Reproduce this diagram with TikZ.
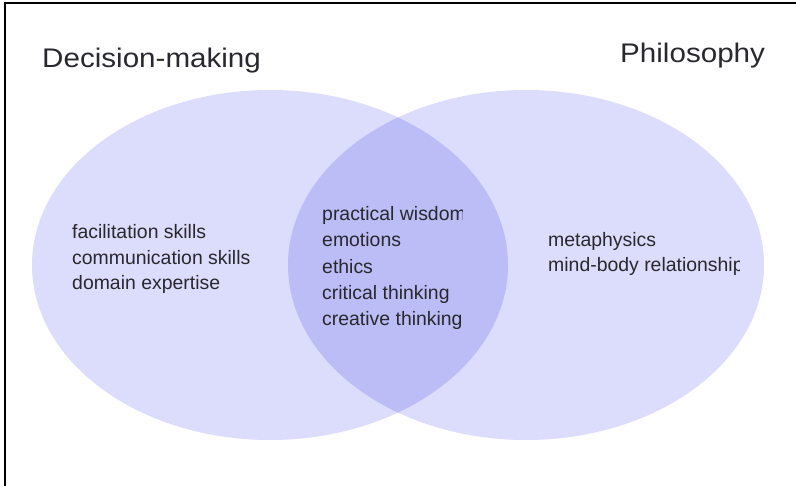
\documentclass[tikz,border=0pt]{standalone}
\usepackage{fontspec}
\setmainfont{Liberation Sans}
\usetikzlibrary{positioning}

\definecolor{setfill}{RGB}{220,220,252}
\definecolor{meetfill}{RGB}{188,188,246}
\definecolor{labeltext}{RGB}{40,40,46}

\begin{document}
\begin{tikzpicture}[x=1bp, y=-1bp,
  settitle/.style={anchor=base west, inner sep=0pt, text=labeltext, xscale=1.1, transform shape, font=\fontsize{27}{32}\selectfont},
  setitem/.style={anchor=base west, inner sep=0pt, text=labeltext, font=\fontsize{19.5}{24}\selectfont}]
\useasboundingbox (0,0) rectangle (796,486);
% frame
\draw[line width=1.6bp] (5,486) -- (5,3) -- (796,3);
% the two sets and their overlap
\fill[setfill] (270,265) ellipse [x radius=238, y radius=175];
\fill[setfill] (526,265) ellipse [x radius=238, y radius=175];
\begin{scope}
\clip (270,265) ellipse [x radius=238, y radius=175];
\fill[meetfill] (526,265) ellipse [x radius=238, y radius=175];
\end{scope}
% titles
\node[settitle] (DM) at (42,68) {Decision-making};
\node[settitle] (PH) at (620,63) {Philosophy};
% items
\foreach \txt [count=\i] in {facilitation skills, communication skills, domain expertise}
  \node[setitem] (DM\i) at (72,{239+25.5*(\i-1)}) {\txt};
\begin{scope}
\clip (300,190) rectangle (462,230);
\node[setitem] (BT1) at (322,221) {practical wisdom};
\end{scope}
\foreach \txt [count=\i from 2] in {emotions, ethics, critical thinking, creative thinking}
  \node[setitem] (BT\i) at (322,{247+26.3*(\i-2)}) {\txt};
\node[setitem] (PH1) at (548,247) {metaphysics};
\begin{scope}
\clip (530,255) rectangle (739,285);
\node[setitem] (PH2) at (548,272) {mind-body relationship};
\end{scope}
\end{tikzpicture}
\end{document}
